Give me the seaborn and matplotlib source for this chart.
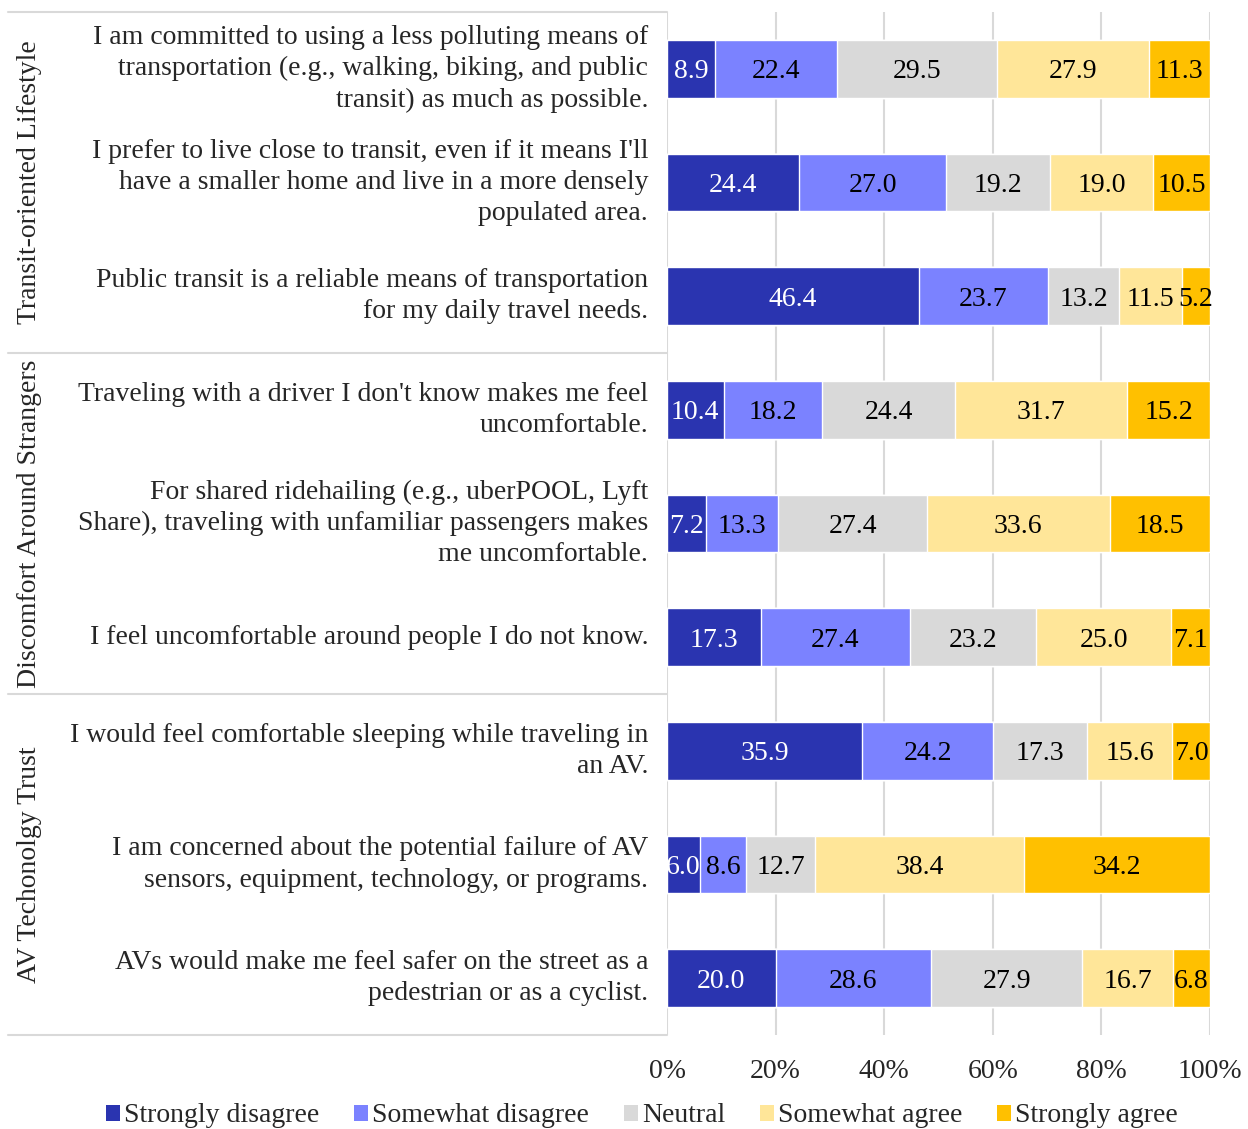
import numpy as np
import pandas as pd
import matplotlib
matplotlib.use("Agg")
import matplotlib.pyplot as plt
import matplotlib.transforms as mtransforms
from matplotlib.patches import Patch
import seaborn as sns

statements = [
    "I am committed to using a less polluting means of\ntransportation (e.g., walking, biking, and public\ntransit) as much as possible.",
    "I prefer to live close to transit, even if it means I'll\nhave a smaller home and live in a more densely\npopulated area.",
    "Public transit is a reliable means of transportation\nfor my daily travel needs.",
    "Traveling with a driver I don't know makes me feel\nuncomfortable.",
    "For shared ridehailing (e.g., uberPOOL, Lyft\nShare), traveling with unfamiliar passengers makes\nme uncomfortable.",
    "I feel uncomfortable around people I do not know.",
    "I would feel comfortable sleeping while traveling in\nan AV.",
    "I am concerned about the potential failure of AV\nsensors, equipment, technology, or programs.",
    "AVs would make me feel safer on the street as a\npedestrian or as a cyclist.",
]
groups = ["Transit-oriented Lifestyle", "Discomfort Around Strangers", "AV Techonolgy Trust"]
responses = ["Strongly disagree", "Somewhat disagree", "Neutral", "Somewhat agree", "Strongly agree"]

strongly_disagree = [8.9, 24.4, 46.4, 10.4, 7.2, 17.3, 35.9, 6.0, 20.0]
somewhat_disagree = [22.4, 27.0, 23.7, 18.2, 13.3, 27.4, 24.2, 8.6, 28.6]
neutral = [29.5, 19.2, 13.2, 24.4, 27.4, 23.2, 17.3, 12.7, 27.9]
somewhat_agree = [27.9, 19.0, 11.5, 31.7, 33.6, 25.0, 15.6, 38.4, 16.7]
strongly_agree = [11.3, 10.5, 5.2, 15.2, 18.5, 7.1, 7.0, 34.2, 6.8]

colors = ["#2A34B0", "#7B82FF", "#D9D9D9", "#FFE699", "#FFC000"]
text_colors = ["white", "black", "black", "black", "black"]

vals = np.array([strongly_disagree, somewhat_disagree, neutral, somewhat_agree, strongly_agree]).T
share = vals / vals.sum(axis=1, keepdims=True) * 100
cum = np.cumsum(share, axis=1)

df = pd.DataFrame(cum, columns=responses)
df["statement"] = statements

sns.set_style("white")
plt.rcParams["font.family"] = ["Liberation Serif", "DejaVu Serif"]
plt.rcParams["font.size"] = 20
FS = 20

fig = plt.figure(figsize=(12.48, 11.29), dpi=100)
ax = fig.add_axes([667 / 1248, 1 - 1035 / 1129, 543 / 1248, 1023 / 1129])

# stacked look: draw cumulative totals from the widest down
for i in range(len(responses) - 1, -1, -1):
    sns.barplot(data=df, x=responses[i], y="statement", color=colors[i],
                saturation=1, width=0.51, orient="h", ax=ax, zorder=2)

for r in range(len(statements)):
    for i in range(len(responses)):
        center = cum[r, i] - share[r, i] / 2
        ax.text(center, r, f"{vals[r, i]:.1f}", ha="center", va="center_baseline",
                color=text_colors[i], fontsize=FS, zorder=3)

ax.set_xlim(0, 100)
ax.set_ylim(len(statements) - 0.5, -0.5)
ax.set_xticks(np.arange(0, 101, 20))
ax.set_xticklabels([f"{t}%" for t in range(0, 101, 20)])
ax.set_yticks(range(len(statements)))
ax.set_yticklabels(statements, fontsize=FS, linespacing=1.33)
for lbl in ax.get_yticklabels():
    lbl.set_verticalalignment("center")
ax.set_xlabel("")
ax.set_ylabel("")
ax.tick_params(axis="y", length=0, pad=13.5)
ax.tick_params(axis="x", length=0, pad=17, labelsize=FS)
ax.grid(axis="x", color="#D9D9D9", lw=1.5, zorder=0)
ax.set_axisbelow(True)
for s in ax.spines.values():
    s.set_visible(False)

# group boxes on the left
trans = mtransforms.blended_transform_factory(ax.transAxes, ax.transData)
x_left = (8 - 667) / 543
for yb in [-0.5, 2.5, 5.5, 8.5]:
    ax.plot([x_left, 0], [yb, yb], color="#D9D9D9", lw=1.5, transform=trans, clip_on=False)
for g, name in enumerate(groups):
    ax.text((30 - 667) / 543, 3 * g + 1, name, rotation=90, ha="center", va="center",
            fontsize=FS, transform=trans)

handles = [Patch(facecolor=c, edgecolor="none") for c in colors]
fig.legend(handles, responses, loc="center", bbox_to_anchor=(642 / 1248, 1 - 1116 / 1129),
           ncol=5, frameon=False, fontsize=FS, handlelength=0.5, handleheight=0.5,
           handletextpad=0.15, columnspacing=1.25, borderaxespad=0)

fig.savefig("out.png", dpi=100)
